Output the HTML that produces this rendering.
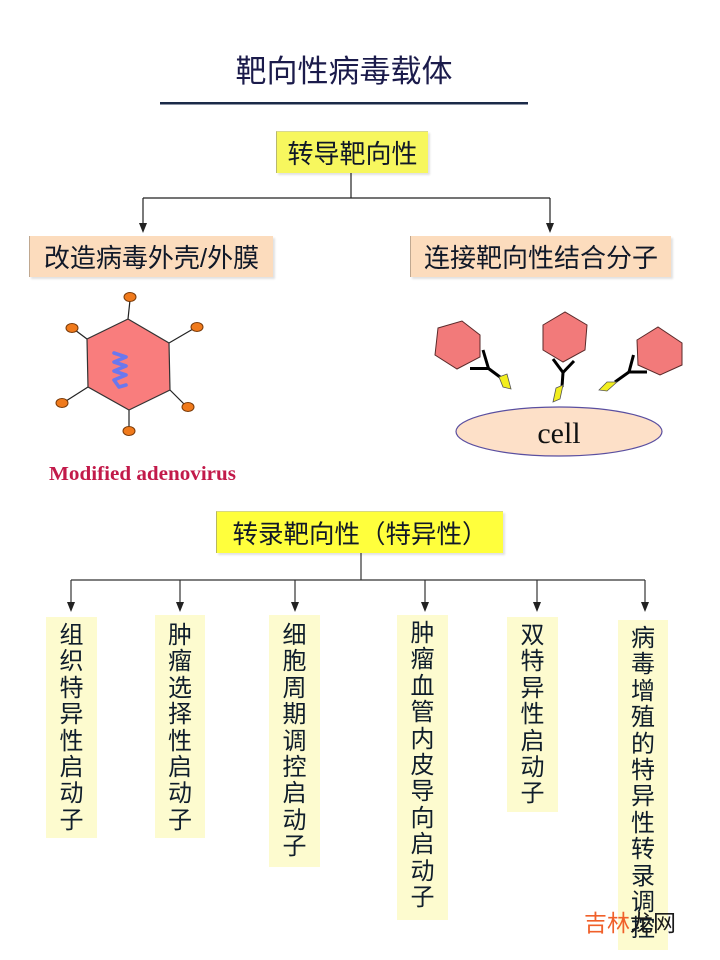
<!DOCTYPE html>
<html>
<head>
<meta charset="utf-8">
<style>
  html, body { margin:0; padding:0; }
  body { width:720px; height:960px; position:relative; background:#ffffff; overflow:hidden;
         font-family:"Liberation Sans","Noto Sans CJK SC",sans-serif; }
  .abs { position:absolute; }
  .title { left:160px; width:368px; top:52px; height:40px; text-align:center; font-size:31px; line-height:40px;
           color:#1b1b4b; font-family:"Liberation Sans","Noto Sans CJK SC",sans-serif; }
  .box { position:absolute; display:flex; align-items:center; justify-content:center;
         color:#101828; font-family:"Liberation Sans","Noto Sans CJK SC",sans-serif; white-space:nowrap;
         box-shadow:2px 2px 2px rgba(0,0,0,0.12); }
  .vbox { position:absolute; background:#fdfbcf; color:#0f1d2b; font-size:24px; line-height:26.4px;
          text-align:center; font-family:"Liberation Sans","Noto Sans CJK SC",sans-serif; box-sizing:border-box; }
  svg { position:absolute; left:0; top:0; }
</style>
</head>
<body>
<svg width="720" height="960" viewBox="0 0 720 960">
  <!-- title underline -->
  <rect x="160" y="102" width="368" height="2.5" fill="#1b2a48"/>

  <!-- top connectors -->
  <g stroke="#222" stroke-width="1.2" fill="none">
    <line x1="351" y1="172" x2="351" y2="198"/>
    <line x1="143" y1="198" x2="550" y2="198"/>
    <line x1="143" y1="198" x2="143" y2="224"/>
    <line x1="550" y1="198" x2="550" y2="224"/>
  </g>
  <polygon points="139,223 147,223 143,233" fill="#222"/>
  <polygon points="546,223 554,223 550,233" fill="#222"/>

  <!-- adenovirus -->
  <g stroke="#222" stroke-width="1.2">
    <line x1="128" y1="319" x2="130" y2="300"/>
    <line x1="169" y1="343" x2="193" y2="329"/>
    <line x1="87" y1="339" x2="75" y2="330"/>
    <line x1="88" y1="387" x2="66" y2="401"/>
    <line x1="170" y1="390" x2="185" y2="405"/>
    <line x1="129" y1="410" x2="129" y2="428"/>
  </g>
  <polygon points="128,319 169,343 170,390 129,410 88,387 87,339" fill="#f97d7d" stroke="#333" stroke-width="1.2"/>
  <path d="M114,353 L126,357 L114,362 L126,366 L114,371 L126,375 L114,380 L119,387 L126,385" fill="none" stroke="#6a78ee" stroke-width="3.6" stroke-linejoin="round" stroke-linecap="round"/>
  <g fill="#f07a1c" stroke="#7a3a08" stroke-width="1">
    <ellipse cx="130" cy="297" rx="6" ry="4.5"/>
    <ellipse cx="197" cy="327" rx="6" ry="4.5"/>
    <ellipse cx="72" cy="328" rx="6" ry="4.5"/>
    <ellipse cx="62" cy="403" rx="6" ry="4.5"/>
    <ellipse cx="188" cy="407" rx="6" ry="4.5"/>
    <ellipse cx="129" cy="431" rx="6" ry="4.5"/>
  </g>
  <text x="49" y="480" font-family="'Liberation Serif',serif" font-weight="bold" font-size="20.5" fill="#c21a4a" textLength="187" lengthAdjust="spacingAndGlyphs">Modified adenovirus</text>

  <!-- right illustration -->
  <g fill="#f27a7a" stroke="#5a2a2a" stroke-width="1">
    <polygon points="438,328 462,321 480,335 480,357 457,369 435,355"/>
    <polygon points="543,325 565,312 587,325 585,350 563,362 543,350"/>
    <polygon points="637,340 658,327 682,343 682,365 660,375 638,365"/>
  </g>
  <g stroke="#000" stroke-width="3" fill="none" stroke-linecap="butt">
    <line x1="483" y1="350" x2="488.5" y2="368.5"/>
    <line x1="470" y1="368.5" x2="489" y2="368.5"/>
    <line x1="488.5" y1="368.5" x2="502" y2="378.5"/>
    <line x1="553" y1="359" x2="563" y2="372.5"/>
    <line x1="574" y1="361" x2="563" y2="372.5"/>
    <line x1="563" y1="372.5" x2="562" y2="387"/>
    <line x1="633.5" y1="355" x2="629" y2="372"/>
    <line x1="629" y1="372" x2="647" y2="372"/>
    <line x1="629" y1="372" x2="615" y2="382"/>
  </g>
  <g fill="#f2ee1e" stroke="#555" stroke-width="0.8">
    <polygon points="499,377 507,374 511,389 503,387"/>
    <polygon points="556,388 563,385 560,399 553,402"/>
    <polygon points="599,390 607,382 617,382 607,391"/>
  </g>
  <ellipse cx="559" cy="431.5" rx="103" ry="24.5" fill="#fde0c8" stroke="#5a4fa0" stroke-width="1.2"/>
  <text x="559" y="443" text-anchor="middle" font-family="'Liberation Serif',serif" font-size="30" fill="#111">cell</text>

  <!-- bottom connectors -->
  <g stroke="#333" stroke-width="1.2" fill="none">
    <line x1="361" y1="553" x2="361" y2="580"/>
    <line x1="71" y1="580" x2="645" y2="580"/>
    <line x1="71" y1="580" x2="71" y2="603"/>
    <line x1="180" y1="580" x2="180" y2="603"/>
    <line x1="295" y1="580" x2="295" y2="603"/>
    <line x1="425" y1="580" x2="425" y2="603"/>
    <line x1="537" y1="580" x2="537" y2="603"/>
    <line x1="645" y1="580" x2="645" y2="603"/>
  </g>
  <g fill="#222">
    <polygon points="67,602 75,602 71,612"/>
    <polygon points="176,602 184,602 180,612"/>
    <polygon points="291,602 299,602 295,612"/>
    <polygon points="421,602 429,602 425,612"/>
    <polygon points="533,602 541,602 537,612"/>
    <polygon points="641,602 649,602 645,612"/>
  </g>
</svg>

<div class="abs title">靶向性病毒载体</div>

<div class="box" style="left:276px;top:131px;width:151px;height:41px;background:#f7f75e;font-size:26px;border-left:1px solid #b8b870;border-top:1px solid #d8d890;">转导靶向性</div>
<div class="box" style="left:29px;top:236px;width:243px;height:41px;background:#fcdcbd;font-size:26px;border-left:1px solid #c0a890;">改造病毒外壳/外膜</div>
<div class="box" style="left:410px;top:236px;width:260px;height:41px;background:#fcdcbd;font-size:26px;border-left:1px solid #c0a890;">连接靶向性结合分子</div>

<div class="box" style="left:216px;top:511px;width:286px;height:41px;background:#ffff3c;font-size:25.5px;border-left:1px solid #b8b860;border-top:1px solid #d8d880;">转录靶向性（特异性）</div>

<div class="vbox" style="left:46px;top:617px;width:51px;height:221px;padding-top:6px;">组<br>织<br>特<br>异<br>性<br>启<br>动<br>子</div>
<div class="vbox" style="left:155px;top:615px;width:50px;height:223px;padding-top:8px;">肿<br>瘤<br>选<br>择<br>性<br>启<br>动<br>子</div>
<div class="vbox" style="left:269px;top:615px;width:51px;height:252px;padding-top:8px;">细<br>胞<br>周<br>期<br>调<br>控<br>启<br>动<br>子</div>
<div class="vbox" style="left:397px;top:615px;width:51px;height:305px;padding-top:6px;">肿<br>瘤<br>血<br>管<br>内<br>皮<br>导<br>向<br>启<br>动<br>子</div>
<div class="vbox" style="left:507px;top:617px;width:51px;height:195px;padding-top:6px;">双<br>特<br>异<br>性<br>启<br>动<br>子</div>
<div class="vbox" style="left:618px;top:620px;width:50px;height:330px;padding-top:6px;overflow:hidden;">病<br>毒<br>增<br>殖<br>的<br>特<br>异<br>性<br>转<br>录<br>调<br>控</div>

<div class="abs" style="left:584px;top:908px;font-size:23px;line-height:30px;white-space:nowrap;font-family:'Liberation Sans','Noto Sans CJK SC',sans-serif;"><span style="color:#f0602a;">吉林</span><span style="color:#1a1a1a;">龙网</span></div>
</body>
</html>
